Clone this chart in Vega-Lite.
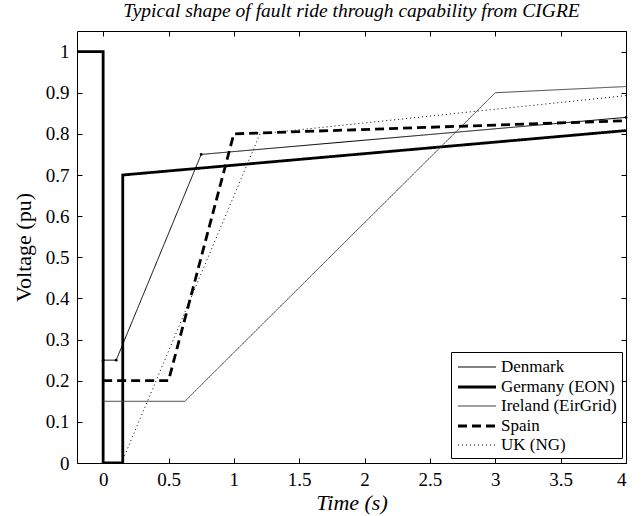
{
  "$schema": "https://vega.github.io/schema/vega-lite/v6.json",
  "width": 549,
  "height": 432,
  "autosize": {"type": "none"},
  "padding": {"left": 77, "top": 31, "right": 17, "bottom": 53},
  "title": {"text": "Typical shape of fault ride through capability from CIGRE", "font": "Liberation Serif", "fontSize": 19.5, "fontStyle": "italic", "fontWeight": "normal", "color": "black", "offset": 9, "anchor": "middle", "frame": "group"},
  "config": {
    "font": "Liberation Serif",
    "view": {"stroke": "black", "strokeWidth": 1},
    "axis": {"grid": false, "domain": false, "tickColor": "black", "tickSize": -5, "labelFont": "Liberation Serif", "labelFontSize": 19, "labelColor": "black", "titleFont": "Liberation Serif", "titleFontSize": 22, "titleColor": "black", "titleFontWeight": "normal"},
    "legend": {"strokeColor": "black", "fillColor": "white", "padding": 5, "labelFont": "Liberation Serif", "labelFontSize": 17, "labelColor": "black", "symbolType": "M-2,0H2", "symbolSize": 361, "symbolOffset": 10, "labelOffset": 13, "rowPadding": 1, "cornerRadius": 0}
  },
  "data": {"values": [
    {"s": "Denmark", "i": 0, "t": 0, "v": 0.25},
    {"s": "Denmark", "i": 1, "t": 0.1, "v": 0.25},
    {"s": "Denmark", "i": 2, "t": 0.75, "v": 0.75},
    {"s": "Denmark", "i": 3, "t": 4, "v": 0.84},
    {"s": "Germany (EON)", "i": 0, "t": -0.2, "v": 1},
    {"s": "Germany (EON)", "i": 1, "t": 0, "v": 1},
    {"s": "Germany (EON)", "i": 2, "t": 0, "v": 0},
    {"s": "Germany (EON)", "i": 3, "t": 0.15, "v": 0},
    {"s": "Germany (EON)", "i": 4, "t": 0.15, "v": 0.7},
    {"s": "Germany (EON)", "i": 5, "t": 4, "v": 0.808},
    {"s": "Ireland (EirGrid)", "i": 0, "t": 0, "v": 0.15},
    {"s": "Ireland (EirGrid)", "i": 1, "t": 0.625, "v": 0.15},
    {"s": "Ireland (EirGrid)", "i": 2, "t": 3, "v": 0.9},
    {"s": "Ireland (EirGrid)", "i": 3, "t": 4, "v": 0.915},
    {"s": "Spain", "i": 0, "t": 0, "v": 0.2},
    {"s": "Spain", "i": 1, "t": 0.5, "v": 0.2},
    {"s": "Spain", "i": 2, "t": 1, "v": 0.8},
    {"s": "Spain", "i": 3, "t": 4, "v": 0.832},
    {"s": "UK (NG)", "i": 0, "t": 0.14, "v": 0},
    {"s": "UK (NG)", "i": 1, "t": 1.2, "v": 0.8},
    {"s": "UK (NG)", "i": 2, "t": 4, "v": 0.893}
  ]},
  "layer": [
    {
      "mark": {"type": "line", "strokeCap": "butt", "strokeJoin": "miter", "clip": true},
      "encoding": {
        "x": {"field": "t", "type": "quantitative", "scale": {"domain": [-0.2, 4], "nice": false, "zero": false},
              "axis": {"orient": "bottom", "values": [0, 0.5, 1, 1.5, 2, 2.5, 3, 3.5, 4], "format": "~g", "title": "Time (s)", "titleFontStyle": "italic", "labelFont": "Liberation Serif", "titleFont": "Liberation Serif", "labelPadding": 12, "titlePadding": 3}},
        "y": {"field": "v", "type": "quantitative", "scale": {"domain": [0, 1.05], "nice": false, "zero": false},
              "axis": {"orient": "left", "values": [0, 0.1, 0.2, 0.3, 0.4, 0.5, 0.6, 0.7, 0.8, 0.9, 1], "format": "~g", "title": "Voltage (pu)", "labelFont": "Liberation Serif", "titleFont": "Liberation Serif", "labelPadding": 13, "titlePadding": 10}},
        "color": {"field": "s", "type": "nominal",
                  "scale": {"domain": ["Denmark", "Germany (EON)", "Ireland (EirGrid)", "Spain", "UK (NG)"], "range": ["black", "black", "#404040", "black", "black"]},
                  "legend": {"title": null, "orient": "none", "legendX": 374, "legendY": 321, "labelFont": "Liberation Serif"}},
        "strokeWidth": {"field": "s", "type": "nominal",
                  "scale": {"type": "ordinal", "domain": ["Denmark", "Germany (EON)", "Ireland (EirGrid)", "Spain", "UK (NG)"], "range": [1, 2.8, 1, 2.8, 1]},
                  "legend": {"title": null, "orient": "none", "legendX": 374, "legendY": 321, "labelFont": "Liberation Serif"}},
        "strokeDash": {"field": "s", "type": "nominal",
                  "scale": {"domain": ["Denmark", "Germany (EON)", "Ireland (EirGrid)", "Spain", "UK (NG)"], "range": [[1, 0], [1, 0], [1, 0], [9, 5], [1, 3]]},
                  "legend": {"title": null, "orient": "none", "legendX": 374, "legendY": 321, "labelFont": "Liberation Serif"}},
        "order": {"field": "i", "type": "quantitative"}
      }
    },
    {
      "transform": [{"filter": "datum.s == 'Denmark'"}],
      "mark": {"type": "point", "filled": true, "size": 8, "color": "black", "opacity": 1},
      "encoding": {
        "x": {"field": "t", "type": "quantitative", "axis": {"orient": "top", "values": [0, 0.5, 1, 1.5, 2, 2.5, 3, 3.5, 4], "labels": false, "title": null}},
        "y": {"field": "v", "type": "quantitative", "axis": {"orient": "right", "values": [0, 0.1, 0.2, 0.3, 0.4, 0.5, 0.6, 0.7, 0.8, 0.9, 1], "labels": false, "title": null}}
      }
    }
  ],
  "resolve": {"axis": {"x": "independent", "y": "independent"}}
}
